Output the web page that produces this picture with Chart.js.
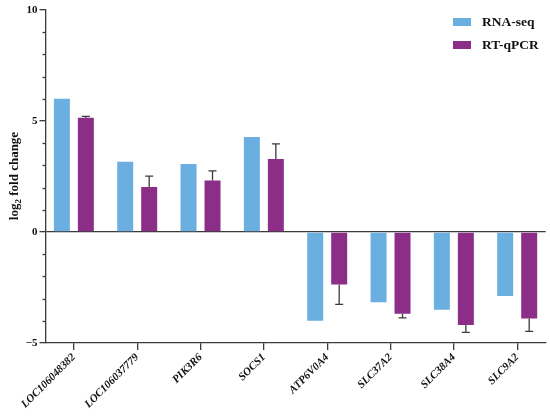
<!DOCTYPE html>
<html><head><meta charset="utf-8">
<script src="https://cdn.jsdelivr.net/npm/chart.js@4.4.0/dist/chart.umd.min.js"></script>
<style>html,body{margin:0;padding:0;background:#fff}canvas{display:block}</style>
</head><body>
<canvas id="c" width="550" height="419" style="width:550px;height:419px"></canvas>
<script>
const genes = ['LOC106048382','LOC106037779','PIK3R6','SOCS1','ATP6V0A4','SLC37A2','SLC38A4','SLC9A2'];
const rnaSeq = [6.0, 3.17, 3.06, 4.28, -4.0, -3.17, -3.5, -2.88];
const rtqpcr = [5.15, 2.03, 2.32, 3.29, -2.37, -3.68, -4.19, -3.9];
const rtqpcrErr = [0.06, 0.49, 0.43, 0.68, 0.89, 0.19, 0.33, 0.58];
const seriesNames = ['RNA-seq','RT-qPCR'];
const yMajorTicks = [-5, 0, 5, 10];

const BLUE = '#6BAEE0', PURPLE = '#8C2E88', AXIS = '#3a3a3a', TXT = '#111';
const FONT = "'Liberation Serif', 'Times New Roman', serif";

const extras = {
  id: 'extras',
  afterDatasetsDraw(chart) {
    const ctx = chart.ctx, y = chart.scales.y, ca = chart.chartArea;
    // error bars (one-sided, away from zero)
    const meta = chart.getDatasetMeta(1);
    ctx.save();
    ctx.strokeStyle = AXIS; ctx.lineWidth = 1.3;
    meta.data.forEach((bar, i) => {
      const v = rtqpcr[i], e = rtqpcrErr[i];
      const s = v >= 0 ? 1 : -1;
      const p0 = y.getPixelForValue(v), p1 = y.getPixelForValue(v + s * e);
      ctx.beginPath();
      ctx.moveTo(bar.x, p0); ctx.lineTo(bar.x, p1);
      ctx.moveTo(bar.x - 4, p1); ctx.lineTo(bar.x + 4, p1);
      ctx.stroke();
    });
    // minor y ticks
    for (let v = y.min; v <= y.max; v++) {
      if (yMajorTicks.includes(v)) continue;
      const py = Math.round(y.getPixelForValue(v)) + 0.5;
      ctx.beginPath(); ctx.moveTo(ca.left - 3.5, py); ctx.lineTo(ca.left, py); ctx.stroke();
    }
    ctx.restore();
  },
  afterDraw(chart) {
    const ctx = chart.ctx;
    ctx.save();
    // legend
    const cols = [BLUE, PURPLE];
    ctx.font = "bold 13.5px " + FONT;
    ctx.textBaseline = 'middle';
    ctx.fillStyle = TXT;
    seriesNames.forEach((n, i) => {
      const cy = 22 + i * 23;
      ctx.fillStyle = cols[i];
      ctx.fillRect(453, cy - 4, 18, 8);
      ctx.fillStyle = TXT;
      ctx.fillText(n, 482, cy + 1);
    });
    // y-axis title with subscript
    ctx.translate(13, 176);
    ctx.rotate(-Math.PI / 2);
    const big = "bold 13px " + FONT, small = "bold 9px " + FONT;
    ctx.font = big; const w1 = ctx.measureText('log').width;
    const w3 = ctx.measureText(' fold change').width;
    ctx.font = small; const w2 = ctx.measureText('2').width;
    let x = -(w1 + w2 + w3) / 2;
    ctx.textBaseline = 'alphabetic';
    ctx.textAlign = 'left';
    ctx.font = big; ctx.fillText('log', x, 4.5); x += w1;
    ctx.font = small; ctx.fillText('2', x, 8); x += w2;
    ctx.font = big; ctx.fillText(' fold change', x, 4.5);
    ctx.restore();
  }
};

new Chart(document.getElementById('c'), {
  type: 'bar',
  data: {
    datasets: [
      { label: seriesNames[0], data: rnaSeq.map((v, i) => ({ x: i, y: v })), backgroundColor: BLUE,
        categoryPercentage: 0.757, barPercentage: 0.667, borderWidth: 0 },
      { label: seriesNames[1], data: rtqpcr.map((v, i) => ({ x: i, y: v })), backgroundColor: PURPLE,
        categoryPercentage: 0.757, barPercentage: 0.667, borderWidth: 0 }
    ]
  },
  options: {
    responsive: false,
    animation: false,
    layout: { padding: { top: 10, right: 4.3, left: 0, bottom: 0 } },
    plugins: { legend: { display: false }, tooltip: { enabled: false } },
    scales: {
      x: {
        type: 'linear', min: -0.44, max: 7.45, offset: false,
        afterBuildTicks: s => { s.ticks = genes.map((g, i) => ({ value: i })); },
        afterFit: s => { s.height = 76; },
        grid: { display: true, drawOnChartArea: false, offset: false, tickLength: 7, color: AXIS, lineWidth: 1.3 },
        border: { display: true, color: AXIS, width: 1.3 },
        ticks: {
          autoSkip: false, minRotation: 45, maxRotation: 45, padding: 1, color: TXT,
          callback: v => genes[v],
          font: { family: FONT, style: 'italic', weight: 'bold', size: 11 }
        }
      },
      y: {
        min: -5, max: 10,
        afterBuildTicks: s => { s.ticks = yMajorTicks.map(v => ({ value: v })); },
        afterFit: s => { s.width = 46; },
        grid: {
          drawOnChartArea: true, tickLength: 6.5, lineWidth: 1.3, tickColor: AXIS,
          color: c => (c.tick && c.tick.value === 0) ? AXIS : 'rgba(0,0,0,0)'
        },
        border: { display: true, color: AXIS, width: 1.3 },
        ticks: {
          padding: 2, color: TXT,
          callback: v => (v < 0 ? '\u2212' + Math.abs(v) : String(v)),
          font: { family: FONT, weight: 'bold', size: 11 }
        }
      }
    }
  },
  plugins: [extras]
});
</script>
</body></html>
